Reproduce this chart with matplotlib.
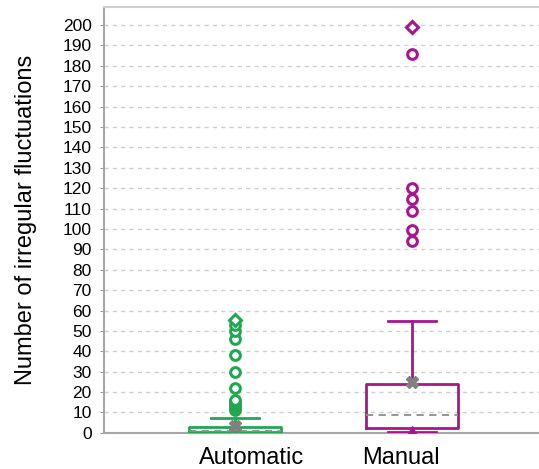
import matplotlib.pyplot as plt
import matplotlib as mpl

mpl.rcParams.update({"font.family": ["Liberation Sans", "DejaVu Sans"]})

# 数据
groups = ["Automatic", "Manual"]
colors = ["#1fa84f", "#a8158f"]
q1 = [0.5, 2.5]
q3 = [3.0, 24.0]
medians = [1.0, 9.0]
means = [3.5, 25.0]
whislo = [0.0, 0.5]
whishi = [7.3, 55.0]
fliers_auto = [11, 12, 13, 14, 15, 16, 22, 30, 38, 46, 50, 53]
fliers_manual = [94, 99.5, 109, 114.5, 120, 186]
extreme_auto = [55.5]
extreme_manual = [199]
y_ticks = list(range(0, 201, 10))

fig = plt.figure(figsize=(5.39, 4.69), dpi=100)
ax = fig.add_axes([0.193, 0.077, 0.807, 0.908])

stats = []
for i, g in enumerate(groups):
    stats.append({"label": g, "q1": q1[i], "q3": q3[i], "med": medians[i],
                  "mean": means[i], "whislo": whislo[i], "whishi": whishi[i],
                  "fliers": []})

pos = [1, 2]
for i in range(2):
    c = colors[i]
    ax.bxp([stats[i]], positions=[pos[i]], widths=0.52, showfliers=False,
           showmeans=True, patch_artist=False,
           boxprops=dict(color=c, lw=2.0),
           whiskerprops=dict(color=c, lw=2.0),
           capprops=dict(color=c, lw=2.0),
           capwidths=0.27,
           medianprops=dict(color="#8c8c8c", lw=1.3, ls=(0, (4, 3))),
           meanprops=dict(marker="X", markerfacecolor="#808080",
                          markeredgecolor="#808080", markersize=9),
           zorder=3)

# 离群点
for p, fl, ex, c in [(1, fliers_auto, extreme_auto, colors[0]),
                     (2, fliers_manual, extreme_manual, colors[1])]:
    ax.plot([p] * len(fl), fl, ls="none", marker="o", markersize=7,
            markerfacecolor="white", markeredgecolor=c, markeredgewidth=2.2,
            zorder=4, clip_on=False)
    ax.plot([p] * len(ex), ex, ls="none", marker="D", markersize=6.5,
            markerfacecolor="white", markeredgecolor=c, markeredgewidth=2.2,
            zorder=4, clip_on=False)

# Manual 最小值的三角标记
ax.plot([2], [1], ls="none", marker="^", markersize=7, color=colors[1], zorder=4)

ax.set_xlim(0.26, 2.72)
ax.set_ylim(0, 208.8)
ax.set_yticks(y_ticks)
# 原图的类别标签并不正对箱体中心
ax.set_xticks([1.095, 1.94])
ax.set_xticklabels(groups, fontsize=17)
ax.tick_params(axis="x", length=0, pad=10)
ax.tick_params(axis="y", labelsize=12.5, length=3, color="#999999", pad=6)
ax.yaxis.grid(True, color="#cfcfcf", ls=(0, (3, 3)), lw=1)
ax.set_axisbelow(True)

for side in ["left", "bottom", "top"]:
    ax.spines[side].set_color("#a6a6a6")
    ax.spines[side].set_linewidth(1.5)
ax.spines["top"].set_color("#d0d0d0")
ax.spines["right"].set_visible(False)

ax.set_ylabel("Number of irregular fluctuations", fontsize=17, labelpad=18)

fig.savefig("out.png", dpi=100)
